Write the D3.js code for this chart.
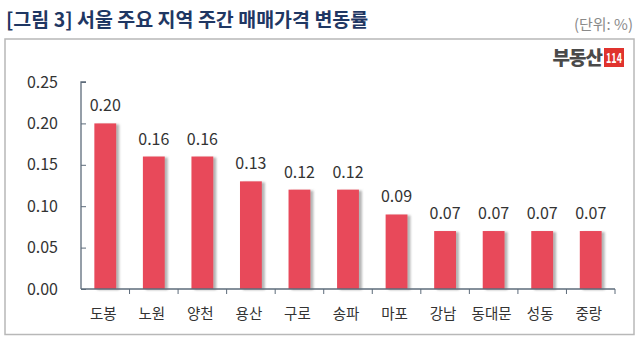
<!DOCTYPE html>
<html><head><meta charset="utf-8">
<script src="https://cdn.jsdelivr.net/npm/d3@7"></script>
<style>
html,body{margin:0;padding:0;background:#fff;}
svg{display:block;font-family:"Noto Sans CJK KR","Noto Sans",sans-serif;}
</style></head>
<body><svg id="chart" width="640" height="358"></svg>
<script>
const categories = ["도봉","노원","양천","용산","구로","송파","마포","강남","동대문","성동","중랑"];
const values = [0.20,0.16,0.16,0.13,0.12,0.12,0.09,0.07,0.07,0.07,0.07];
const yTicks = [0.00,0.05,0.10,0.15,0.20,0.25];
const titleText = "[그림 3] 서울 주요 지역 주간 매매가격 변동률";
const unitText = "(단위: %)";

(function(){
const svg = d3.select("#chart");
const defs = svg.append("defs");
const f = defs.append("filter").attr("id","sh").attr("x","-30%").attr("y","-10%").attr("width","180%").attr("height","130%");
f.append("feDropShadow").attr("dx",3).attr("dy",1).attr("stdDeviation",1.3).attr("flood-color","#777").attr("flood-opacity",0.55);

// title
svg.append("text").attr("x",6).attr("y",27).attr("font-size",19.5).attr("font-weight","bold")
  .attr("fill","#1f3763").text(titleText);
svg.append("text").attr("x",633).attr("y",30).attr("text-anchor","end").attr("font-size",15)
  .attr("fill","#8a8a8a").text(unitText);

// frame
svg.append("rect").attr("x",5).attr("y",39).attr("width",629).attr("height",295.5)
  .attr("fill","#fff").attr("stroke","#b8b8b8").attr("stroke-width",1.5);

// logo
svg.append("text").attr("x",602).attr("y",65).attr("text-anchor","end").attr("font-size",19)
  .attr("font-weight","900").attr("fill","#4a4a4a").attr("letter-spacing",-1).text("부동산");
svg.append("rect").attr("x",604).attr("y",48).attr("width",20).attr("height",19).attr("fill","#e0332e");
svg.append("text").attr("x",606).attr("y",63).attr("font-size",14)
  .attr("font-weight","bold").attr("fill","#fff").attr("textLength",16).attr("lengthAdjust","spacingAndGlyphs").text("114");

const mLeft = 81, mRight = 615, mTop = 82, mBottom = 289;
const x = d3.scaleBand().domain(categories).range([mLeft,mRight]).paddingInner(0.55).paddingOuter(0.275);
const xb = d3.scaleBand().domain(categories).range([mLeft,mRight]);
const y = d3.scaleLinear().domain([0,0.25]).range([mBottom,mTop]);

// bars
svg.append("g").selectAll("rect").data(values).join("rect")
  .attr("x",(d,i)=>x(categories[i])).attr("width",x.bandwidth())
  .attr("y",d=>y(d)).attr("height",d=>mBottom-y(d))
  .attr("fill","#e8495a").attr("filter","url(#sh)");

// y axis
const ya = svg.append("g").attr("transform",`translate(${mLeft},0)`)
  .call(d3.axisRight(y).tickValues(yTicks).tickSize(5).tickFormat(()=> ""));
ya.select(".domain").attr("stroke","#5d6b7a").attr("stroke-width",1.3).attr("d",`M5,${mTop}H0V${mBottom}`);
ya.selectAll(".tick line").attr("stroke","#5d6b7a");
svg.append("g").selectAll("text").data(yTicks).join("text")
  .attr("x",58).attr("y",d=>y(d)+5.5).attr("text-anchor","end").attr("font-size",16)
  .attr("fill","#333").text(d=>d3.format(".2f")(d));

// x axis
const xa = svg.append("g").attr("transform",`translate(0,${mBottom})`)
  .call(d3.axisBottom(xb).tickSize(0).tickFormat(()=>""));
xa.select(".domain").attr("stroke","#5d6b7a").attr("stroke-width",1.3).attr("d",`M${mLeft},0H${mRight}`);
xa.selectAll(".tick").remove();
const tickXs = categories.slice(1).map(c=>xb(c)).concat([mRight]);
svg.append("g").selectAll("line").data(tickXs).join("line")
  .attr("x1",d=>d).attr("x2",d=>d)
  .attr("y1",mBottom).attr("y2",mBottom+5).attr("stroke","#5d6b7a").attr("stroke-width",1);

svg.append("g").selectAll("text").data(categories).join("text")
  .attr("x",d=>xb(d)+xb.bandwidth()/2-2).attr("y",319).attr("text-anchor","middle")
  .attr("font-size",14.5).attr("fill","#333").text(d=>d);

// value labels
svg.append("g").selectAll("text").data(values).join("text")
  .attr("x",(d,i)=>xb(categories[i])+xb.bandwidth()/2).attr("y",d=>y(d)-12)
  .attr("text-anchor","middle").attr("font-size",16).attr("fill","#333")
  .text(d=>d3.format(".2f")(d));
})();
</script></body></html>
